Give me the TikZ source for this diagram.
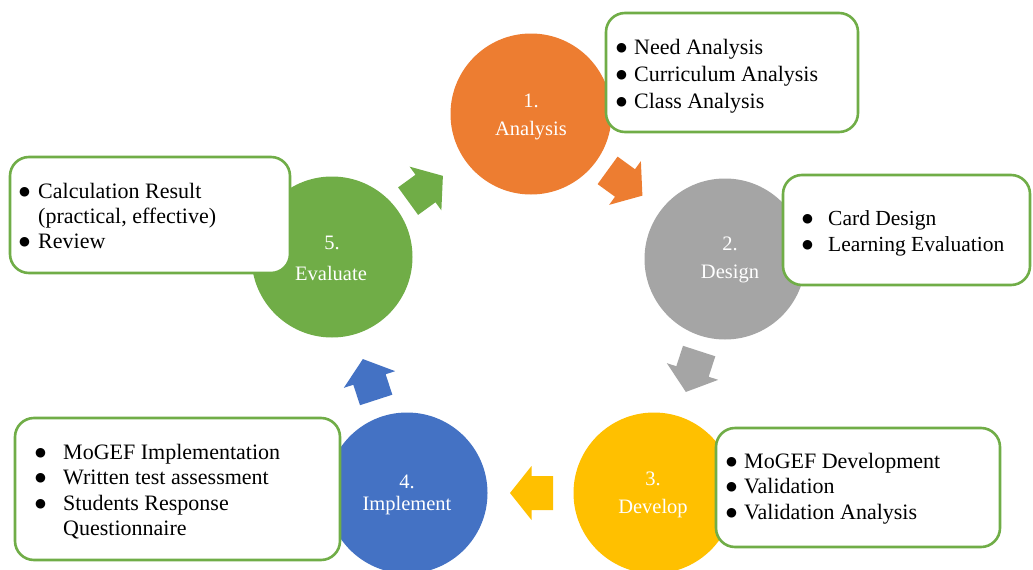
\documentclass[tikz,border=0pt]{standalone}
\usepackage{fontspec}
\setmainfont{Liberation Serif}
\newfontfamily\symfont{DejaVu Sans}
\definecolor{cOrange}{HTML}{ED7D31}
\definecolor{cGray}{HTML}{A5A5A5}
\definecolor{cYellow}{HTML}{FFC000}
\definecolor{cBlue}{HTML}{4472C4}
\definecolor{cGreen}{HTML}{70AD47}
\newcommand\bul[1]{\makebox[#1][l]{\raisebox{2.5pt}{\symfont\fontsize{12.5}{12.5}\selectfont ●}}}
\begin{document}
\begin{tikzpicture}[x=1pt,y=-1pt,
  stage/.style={circle, minimum size=161pt, inner sep=0pt, draw=none},
  stagetext/.style={anchor=base, text=white, inner sep=0pt, font=\fontsize{20.5}{24}\selectfont},
  infobox/.style={draw=cGreen, line width=2.6pt, rounded corners=19pt, fill=white, inner sep=0pt},
  itemline/.style={anchor=base west, inner sep=0pt, font=\fontsize{22}{26}\selectfont},
  itemlinet/.style={anchor=base west, inner sep=0pt, font=\fontsize{21.5}{26}\selectfont},
]
\useasboundingbox (0,0) rectangle (1033,570);
\fill[white] (0,0) rectangle (1033,570);

% circles
\node[stage, fill=cOrange] (c1) at (531,114) {};
\node[stage, fill=cGray]   (c2) at (725,259) {};
\node[stage, fill=cYellow] (c3) at (654,493) {};
\node[stage, fill=cBlue]   (c4) at (407,493) {};
\node[stage, fill=cGreen]  (c5) at (332,257) {};

% circle labels
\node[stagetext] (c1a) at (531,107) {1.};
\node[stagetext] (c1b) at (531,135) {Analysis};
\node[stagetext] (c2a) at (730,250) {2.};
\node[stagetext] (c2b) at (730,278) {Design};
\node[stagetext] (c3a) at (653,485) {3.};
\node[stagetext] (c3b) at (653,513) {Develop};
\node[stagetext] (c4a) at (407,488) {4.};
\node[stagetext] (c4b) at (407,510) {Implement};
\node[stagetext] (c5a) at (332,249) {5.};
\node[stagetext] (c5b) at (331,280) {Evaluate};

% block arrows
\fill[cGreen,  shift={(425.5,188.5)}, rotate=36]   (21.5,0) -- (0,27) -- (0,17) -- (-21.5,17) -- (-21.5,-17) -- (0,-17) -- (0,-27) -- cycle;
\fill[cOrange, shift={(625,183)},     rotate=-36]  (21.5,0) -- (0,27) -- (0,17) -- (-21.5,17) -- (-21.5,-17) -- (0,-17) -- (0,-27) -- cycle;
\fill[cGray,   shift={(692.5,371.5)}, rotate=-108] (21.5,0) -- (0,27) -- (0,17) -- (-21.5,17) -- (-21.5,-17) -- (0,-17) -- (0,-27) -- cycle;
\fill[cYellow, shift={(531.5,493)},   rotate=180]  (21.5,0) -- (0,27) -- (0,17) -- (-21.5,17) -- (-21.5,-17) -- (0,-17) -- (0,-27) -- cycle;
\fill[cBlue,   shift={(369.5,379.5)}, rotate=108]  (21.5,0) -- (0,27) -- (0,17) -- (-21.5,17) -- (-21.5,-17) -- (0,-17) -- (0,-27) -- cycle;

% boxes
\node[infobox, minimum width=252pt, minimum height=119pt] (b1) at (732,72.5) {};
\node[infobox, minimum width=247pt, minimum height=110pt] (b2) at (906.5,230) {};
\node[infobox, minimum width=284pt, minimum height=119pt] (b3) at (858,487.5) {};
\node[infobox, minimum width=325pt, minimum height=142pt] (b4) at (177.5,489) {};
\node[infobox, minimum width=280pt, minimum height=116pt] (b5) at (150,215) {};

% box texts
\node[itemline] (b1l1) at (616,54)  {\bul{18pt}Need Analysis};
\node[itemline] (b1l2) at (616,81)  {\bul{18pt}Curriculum Analysis};
\node[itemline] (b1l3) at (616,108) {\bul{18pt}Class Analysis};

\node[itemlinet] (b2l1) at (802,225) {\bul{26pt}Card Design};
\node[itemlinet] (b2l2) at (802,251) {\bul{26pt}Learning Evaluation};

\node[itemline] (b3l1) at (726,468) {\bul{18pt}MoGEF Development};
\node[itemline] (b3l2) at (726,493) {\bul{18pt}Validation};
\node[itemline] (b3l3) at (726,519) {\bul{18pt}Validation Analysis};

\node[itemline] (b4l1) at (35,459) {\bul{28pt}MoGEF Implementation};
\node[itemline] (b4l2) at (35,484) {\bul{28pt}Written test assessment};
\node[itemline] (b4l3) at (35,510) {\bul{28pt}Students Response};
\node[itemline] (b4l4) at (63,535) {Questionnaire};

\node[itemline] (b5l1) at (19,198) {\bul{19pt}Calculation Result};
\node[itemline] (b5l2) at (38,223) {(practical, effective)};
\node[itemline] (b5l3) at (19,248) {\bul{19pt}Review};
\end{tikzpicture}
\end{document}
